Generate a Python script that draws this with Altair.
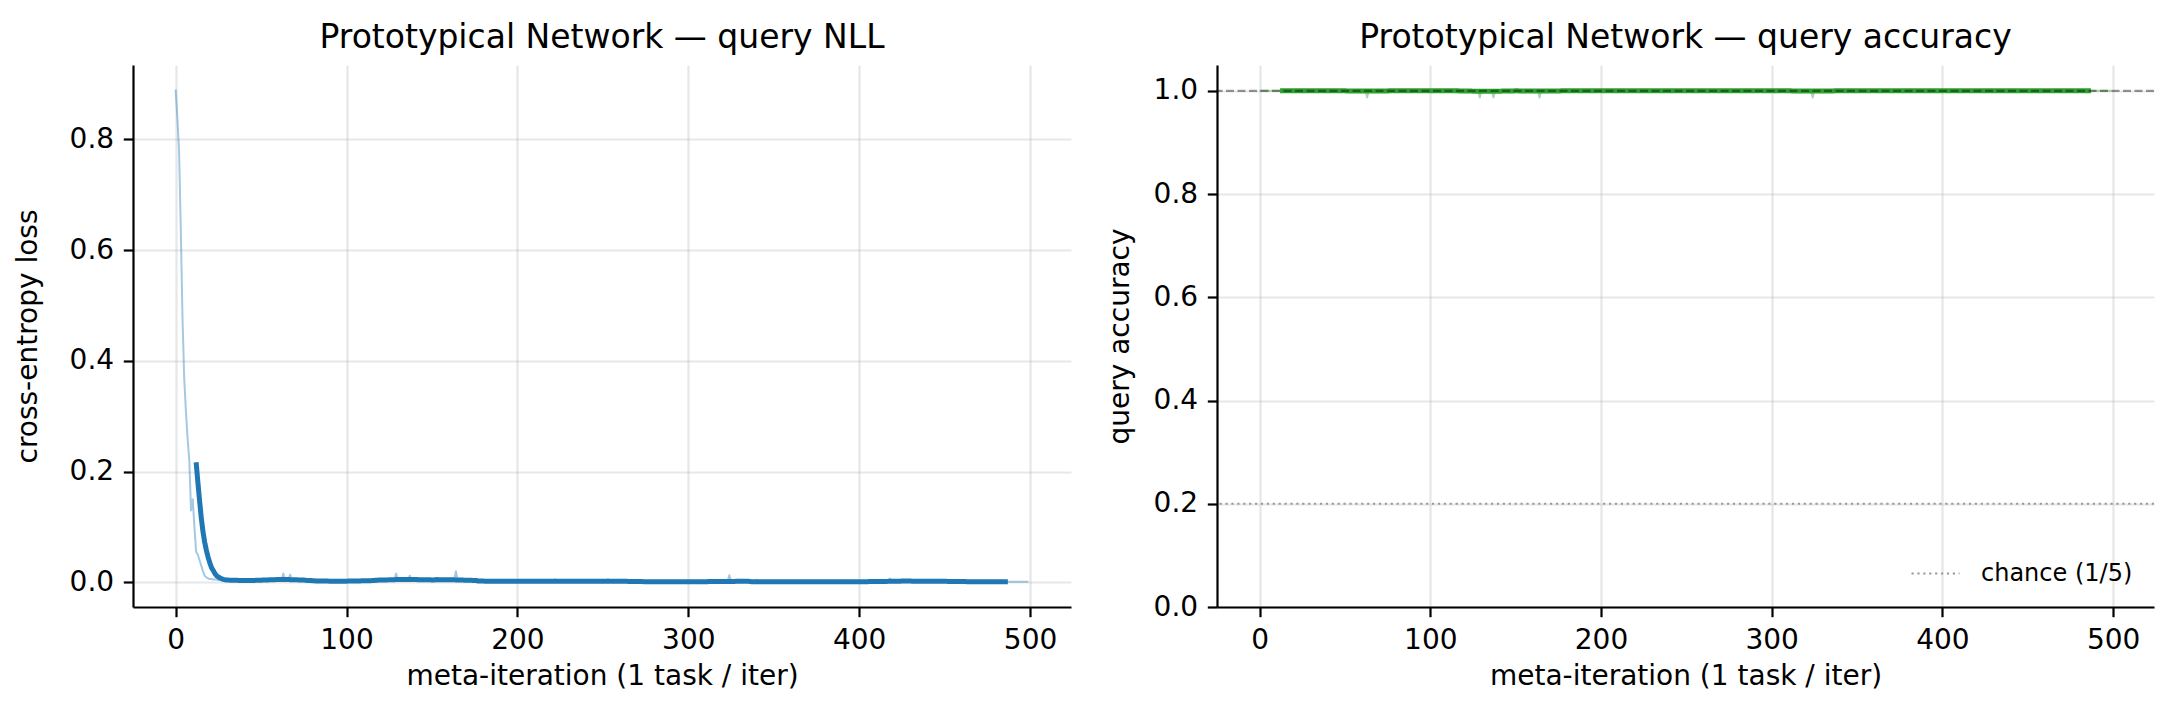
import altair as alt
import pandas as pd

FONT = "DejaVu Sans"
BLUE = "#1f77b4"
GREEN = "#2ca02c"

# ---------------- data ----------------
iterations = list(range(500))

nll_raw = [
    0.89, 0.84, 0.78, 0.64, 0.48, 0.37, 0.31, 0.26, 0.22, 0.13, 0.15, 0.10, 0.055, 0.05, 0.04, 0.03, 0.02, 0.012, 0.009, 0.007,
    0.006, 0.006, 0.005, 0.005, 0.005, 0.004, 0.005, 0.004, 0.004, 0.004, 0.004, 0.003, 0.004, 0.004, 0.003, 0.004, 0.003, 0.003, 0.004, 0.003,
    0.003, 0.004, 0.003, 0.003, 0.003, 0.004, 0.003, 0.003, 0.003, 0.003, 0.003, 0.004, 0.003, 0.004, 0.004, 0.005, 0.004, 0.005, 0.004, 0.005,
    0.005, 0.004, 0.005, 0.016, 0.005, 0.004, 0.005, 0.014, 0.004, 0.004, 0.004, 0.004, 0.003, 0.004, 0.003, 0.003, 0.004, 0.003, 0.003, 0.002,
    0.003, 0.002, 0.002, 0.003, 0.002, 0.002, 0.002, 0.003, 0.002, 0.002, 0.002, 0.002, 0.003, 0.002, 0.002, 0.002, 0.002, 0.002, 0.002, 0.002,
    0.002, 0.002, 0.002, 0.002, 0.002, 0.002, 0.002, 0.002, 0.002, 0.002, 0.003, 0.003, 0.003, 0.004, 0.003, 0.003, 0.004, 0.004, 0.003, 0.004,
    0.004, 0.004, 0.003, 0.004, 0.005, 0.004, 0.004, 0.005, 0.004, 0.016, 0.005, 0.004, 0.004, 0.005, 0.004, 0.004, 0.005, 0.012, 0.004, 0.004,
    0.004, 0.005, 0.004, 0.004, 0.004, 0.005, 0.004, 0.004, 0.005, 0.004, 0.004, 0.004, 0.005, 0.004, 0.004, 0.004, 0.005, 0.004, 0.004, 0.004,
    0.004, 0.005, 0.004, 0.005, 0.020, 0.005, 0.004, 0.004, 0.004, 0.003, 0.004, 0.003, 0.003, 0.003, 0.003, 0.002, 0.002, 0.002, 0.002, 0.002,
    0.002, 0.002, 0.001, 0.002, 0.002, 0.002, 0.001, 0.002, 0.002, 0.002, 0.002, 0.001, 0.002, 0.002, 0.002, 0.002, 0.001, 0.002, 0.002, 0.002,
    0.002, 0.002, 0.002, 0.001, 0.002, 0.002, 0.002, 0.002, 0.001, 0.002, 0.002, 0.002, 0.002, 0.002, 0.001, 0.002, 0.002, 0.002, 0.002, 0.002,
    0.002, 0.002, 0.006, 0.002, 0.002, 0.002, 0.002, 0.002, 0.002, 0.001, 0.002, 0.002, 0.002, 0.002, 0.002, 0.001, 0.002, 0.002, 0.002, 0.002,
    0.002, 0.002, 0.001, 0.002, 0.002, 0.002, 0.002, 0.002, 0.002, 0.002, 0.002, 0.002, 0.002, 0.006, 0.002, 0.002, 0.002, 0.002, 0.001, 0.002,
    0.002, 0.002, 0.002, 0.002, 0.001, 0.002, 0.002, 0.001, 0.002, 0.001, 0.001, 0.002, 0.001, 0.001, 0.001, 0.002, 0.001, 0.001, 0.001, 0.001,
    0.001, 0.001, 0.002, 0.001, 0.001, 0.001, 0.001, 0.002, 0.001, 0.001, 0.001, 0.001, 0.001, 0.002, 0.001, 0.001, 0.001, 0.001, 0.001, 0.001,
    0.001, 0.001, 0.001, 0.002, 0.001, 0.001, 0.001, 0.001, 0.001, 0.001, 0.002, 0.001, 0.001, 0.001, 0.001, 0.001, 0.001, 0.002, 0.001, 0.001,
    0.001, 0.001, 0.002, 0.002, 0.013, 0.002, 0.001, 0.001, 0.001, 0.001, 0.001, 0.001, 0.001, 0.001, 0.001, 0.001, 0.001, 0.001, 0.001, 0.002,
    0.005, 0.002, 0.001, 0.001, 0.001, 0.001, 0.001, 0.001, 0.001, 0.001, 0.001, 0.001, 0.001, 0.001, 0.001, 0.001, 0.001, 0.001, 0.001, 0.001,
    0.001, 0.001, 0.001, 0.001, 0.001, 0.001, 0.001, 0.001, 0.001, 0.001, 0.001, 0.001, 0.001, 0.001, 0.001, 0.001, 0.001, 0.001, 0.001, 0.001,
    0.001, 0.001, 0.001, 0.001, 0.001, 0.001, 0.001, 0.001, 0.001, 0.002, 0.003, 0.002, 0.001, 0.001, 0.001, 0.001, 0.001, 0.001, 0.001, 0.001,
    0.001, 0.001, 0.001, 0.001, 0.001, 0.001, 0.001, 0.001, 0.001, 0.001, 0.001, 0.001, 0.001, 0.001, 0.002, 0.002, 0.001, 0.002, 0.007, 0.002,
    0.002, 0.002, 0.002, 0.002, 0.002, 0.002, 0.002, 0.002, 0.002, 0.002, 0.004, 0.002, 0.002, 0.002, 0.002, 0.002, 0.002, 0.004, 0.002, 0.002,
    0.002, 0.002, 0.002, 0.002, 0.002, 0.002, 0.002, 0.002, 0.002, 0.002, 0.002, 0.002, 0.002, 0.002, 0.002, 0.004, 0.002, 0.001, 0.001, 0.001,
    0.001, 0.001, 0.001, 0.001, 0.001, 0.001, 0.001, 0.001, 0.001, 0.001, 0.001, 0.001, 0.001, 0.001, 0.001, 0.001, 0.001, 0.001, 0.001, 0.001,
    0.001, 0.001, 0.001, 0.001, 0.001, 0.001, 0.001, 0.001, 0.001, 0.001, 0.001, 0.001, 0.001, 0.001, 0.001, 0.001, 0.001, 0.001, 0.001, 0.001,
]

acc_raw = [
    1, 1, 1, 1, 1, 1, 1, 1, 1, 1, 1, 1, 1, 1, 1, 1, 1, 1, 1, 1,
    1, 1, 1, 1, 1, 1, 1, 1, 1, 1, 1, 1, 1, 1, 1, 1, 1, 1, 1, 1,
    1, 1, 1, 1, 1, 1, 1, 1, 1, 1, 1, 1, 1, 1, 1, 1, 1, 1, 1, 1,
    1, 1, 1, 0.987, 1, 1, 1, 1, 1, 1, 1, 1, 1, 1, 1, 1, 1, 1, 1, 1,
    1, 1, 1, 1, 1, 1, 1, 1, 1, 1, 1, 1, 1, 1, 1, 1, 1, 1, 1, 1,
    1, 1, 1, 1, 1, 1, 1, 1, 1, 1, 1, 1, 1, 1, 1, 1, 1, 1, 1, 1,
    1, 1, 1, 1, 1, 1, 1, 1, 1, 0.987, 1, 1, 1, 1, 1, 1, 1, 0.987, 1, 1,
    1, 1, 1, 1, 1, 1, 1, 1, 1, 1, 1, 1, 1, 1, 1, 1, 1, 1, 1, 1,
    1, 1, 1, 1, 0.987, 1, 1, 1, 1, 1, 1, 1, 1, 1, 1, 1, 1, 1, 1, 1,
    1, 1, 1, 1, 1, 1, 1, 1, 1, 1, 1, 1, 1, 1, 1, 1, 1, 1, 1, 1,
    1, 1, 1, 1, 1, 1, 1, 1, 1, 1, 1, 1, 1, 1, 1, 1, 1, 1, 1, 1,
    1, 1, 1, 1, 1, 1, 1, 1, 1, 1, 1, 1, 1, 1, 1, 1, 1, 1, 1, 1,
    1, 1, 1, 1, 1, 1, 1, 1, 1, 1, 1, 1, 1, 1, 1, 1, 1, 1, 1, 1,
    1, 1, 1, 1, 1, 1, 1, 1, 1, 1, 1, 1, 1, 1, 1, 1, 1, 1, 1, 1,
    1, 1, 1, 1, 1, 1, 1, 1, 1, 1, 1, 1, 1, 1, 1, 1, 1, 1, 1, 1,
    1, 1, 1, 1, 1, 1, 1, 1, 1, 1, 1, 1, 1, 1, 1, 1, 1, 1, 1, 1,
    1, 1, 1, 1, 0.987, 1, 1, 1, 1, 1, 1, 1, 1, 1, 1, 1, 1, 1, 1, 1,
    1, 1, 1, 1, 1, 1, 1, 1, 1, 1, 1, 1, 1, 1, 1, 1, 1, 1, 1, 1,
    1, 1, 1, 1, 1, 1, 1, 1, 1, 1, 1, 1, 1, 1, 1, 1, 1, 1, 1, 1,
    1, 1, 1, 1, 1, 1, 1, 1, 1, 1, 1, 1, 1, 1, 1, 1, 1, 1, 1, 1,
    1, 1, 1, 1, 1, 1, 1, 1, 1, 1, 1, 1, 1, 1, 1, 1, 1, 1, 1, 1,
    1, 1, 1, 1, 1, 1, 1, 1, 1, 1, 1, 1, 1, 1, 1, 1, 1, 1, 1, 1,
    1, 1, 1, 1, 1, 1, 1, 1, 1, 1, 1, 1, 1, 1, 1, 1, 1, 1, 1, 1,
    1, 1, 1, 1, 1, 1, 1, 1, 1, 1, 1, 1, 1, 1, 1, 1, 1, 1, 1, 1,
    1, 1, 1, 1, 1, 1, 1, 1, 1, 1, 1, 1, 1, 1, 1, 1, 1, 1, 1, 1,
]

x_ticks = [0, 100, 200, 300, 400, 500]
nll_ticks = [0.0, 0.2, 0.4, 0.6, 0.8]
acc_ticks = [0.0, 0.2, 0.4, 0.6, 0.8, 1.0]
chance_level = [0.2]
chance_label = ["chance (1/5)"]
perfect_level = [1.0]

smooth_half_window = 12  # 25-iteration moving average

df = pd.DataFrame({"iter": iterations, "nll": nll_raw, "acc": acc_raw})
chance_df = pd.DataFrame({"y": chance_level, "label": chance_label})
perfect_df = pd.DataFrame({"y": perfect_level})

X_DOMAIN = [-24.95, 523.95]
NLL_DOMAIN = [-0.0445, 0.9345]
ACC_DOMAIN = [0.0, 1.05]
W_LEFT, W_RIGHT, H = 938, 937, 542

x_scale = alt.Scale(domain=X_DOMAIN, nice=False, zero=False)
x_axis = alt.Axis(values=x_ticks, format="d", title="meta-iteration (1 task / iter)")


def xenc():
    return alt.X("iter:Q", scale=x_scale, axis=x_axis)


def smoothed(field):
    return (
        alt.Chart(df)
        .transform_window(
            smooth=f"mean({field})",
            frame=[-smooth_half_window, smooth_half_window],
            sort=[alt.SortField("iter")],
        )
        .transform_filter(
            f"datum.iter >= {smooth_half_window} && datum.iter <= {len(iterations) - 1 - smooth_half_window}"
        )
    )


def panel_title(text):
    return alt.TitleParams(
        text, fontSize=33, font=FONT, fontWeight="normal", anchor="middle",
        frame="group", offset=10, color="black",
    )


# ---------------- left: NLL ----------------
nll_y_scale = alt.Scale(domain=NLL_DOMAIN, nice=False, zero=False)
nll_axis = alt.Axis(values=nll_ticks, format=".1f", title="cross-entropy loss", titleX=-105)

nll_raw_line = alt.Chart(df).mark_line(
    color=BLUE, opacity=0.4, strokeWidth=2, strokeJoin="round"
).encode(x=xenc(), y=alt.Y("nll:Q", scale=nll_y_scale, axis=nll_axis))

nll_smooth_line = smoothed("nll").mark_line(
    color=BLUE, strokeWidth=5, strokeJoin="round"
).encode(x=xenc(), y=alt.Y("smooth:Q", scale=nll_y_scale, axis=nll_axis))

left = alt.layer(nll_raw_line, nll_smooth_line).properties(
    width=W_LEFT, height=H, title=panel_title("Prototypical Network — query NLL")
)

# ---------------- right: accuracy ----------------
acc_y_scale = alt.Scale(domain=ACC_DOMAIN, nice=False, zero=False)
acc_axis = alt.Axis(values=acc_ticks, format=".1f", title="query accuracy", titleX=-97)

acc_raw_line = alt.Chart(df).mark_line(
    color=GREEN, opacity=0.4, strokeWidth=2, strokeJoin="round"
).encode(x=xenc(), y=alt.Y("acc:Q", scale=acc_y_scale, axis=acc_axis))

acc_smooth_line = smoothed("acc").mark_line(
    color=GREEN, strokeWidth=5, strokeJoin="round"
).encode(x=xenc(), y=alt.Y("smooth:Q", scale=acc_y_scale, axis=acc_axis))

chance_rule = alt.Chart(chance_df).mark_rule(
    strokeWidth=2.2, strokeDash=[2.2, 3.7]
).encode(
    y=alt.Y("y:Q", scale=acc_y_scale, axis=acc_axis),
    color=alt.Color(
        "label:N",
        scale=alt.Scale(range=["#999999"]),
        legend=alt.Legend(
            title=None, orient="none", legendX=693, legendY=483,
            symbolType="stroke", symbolSize=2304, symbolStrokeWidth=2.2,
            symbolDash=[2.2, 3.7], labelFontSize=24, labelFont=FONT,
            labelColor="black", labelOffset=20, padding=0,
        ),
    ),
)

perfect_rule = alt.Chart(perfect_df).mark_rule(
    color="black", opacity=0.4, strokeWidth=2.2, strokeDash=[8, 3.5]
).encode(y=alt.Y("y:Q", scale=acc_y_scale, axis=acc_axis))

right = alt.layer(acc_raw_line, acc_smooth_line, chance_rule, perfect_rule).properties(
    width=W_RIGHT, height=H, title=panel_title("Prototypical Network — query accuracy")
)

chart = (
    alt.hconcat(left, right, spacing=35)
    .resolve_scale(x="independent", y="independent", color="independent")
    .properties(padding={"left": 6, "top": 14, "right": 10, "bottom": 10}, background="white")
    .configure(font=FONT)
    .configure_view(stroke=None)
    .configure_axis(
        labelFont=FONT, titleFont=FONT, labelFontSize=28, titleFontSize=28,
        titleFontWeight="normal", labelColor="black", titleColor="black",
        domainColor="black", domainWidth=2.2, tickColor="black", tickWidth=2.2,
        tickSize=9.7, labelPadding=9.7, gridColor="#b0b0b0", gridOpacity=0.3,
        gridWidth=2.2, labelFlush=False, labelOverlap=False, titlePadding=8,
    )
    .configure_axisY(titleBaseline="middle", titleAngle=270)
)

chart.save("out.html", embed_options={"renderer": "svg", "actions": False})
